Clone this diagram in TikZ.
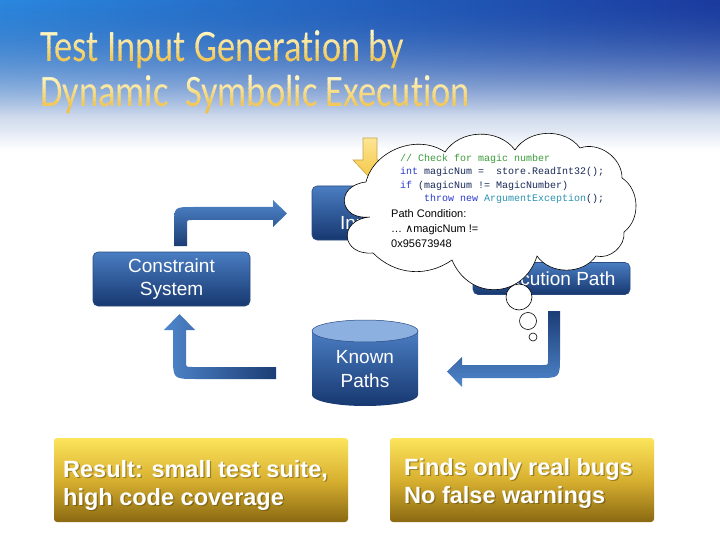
\documentclass[tikz,border=0pt]{standalone}
\usepackage{fontspec}
\setmainfont{Liberation Sans}
\newfontfamily\titlefont[Ligatures=NoCommon]{Carlito}
\newfontfamily\codefont{Liberation Mono}
\newfontfamily\dejavu{DejaVu Sans}
\usetikzlibrary{fadings}
\definecolor{skytop}{HTML}{2455AA}
\definecolor{skymid}{HTML}{6A86C0}
\definecolor{skyleft}{HTML}{2B88DE}
\definecolor{skyright}{HTML}{1B3A9E}
\definecolor{bt}{HTML}{4A7DC2}
\definecolor{bb}{HTML}{173870}
\definecolor{bd}{HTML}{2A4A80}
\definecolor{arrlight}{HTML}{4F86CB}
\definecolor{arrdark}{HTML}{1C3D75}
\definecolor{ytop}{HTML}{FCE45C}
\definecolor{ymid}{HTML}{D8B030}
\definecolor{ybot}{HTML}{8A6912}
\definecolor{yshadow}{HTML}{4A3A08}
\definecolor{cgreen}{HTML}{3A9A3A}
\definecolor{ckw}{HTML}{2A3AD0}
\definecolor{ctype}{HTML}{2B91AF}
\definecolor{ctext}{HTML}{1A2A5A}
\definecolor{cylcap}{HTML}{8CB0E0}
\definecolor{goldarrow}{HTML}{F4C846}
\definecolor{goldlight}{HTML}{FDE593}
\definecolor{goldedge}{HTML}{C9A24A}
\definecolor{ty1}{HTML}{FFF6C4}
\definecolor{ty2}{HTML}{F0C248}
\tikzset{
  bluebox/.style={rounded corners=5pt, top color=bt, bottom color=bb, draw=bd, line width=0.6pt,
    text=white, font=\fontsize{19}{23}\selectfont, align=center, inner sep=0pt},
  ybox/.style={rounded corners=3pt, top color=ytop, bottom color=ybot, middle color=ymid, draw=none, inner sep=0pt},
  ytext/.style={anchor=west, align=left, font=\bfseries\fontsize{23.5}{28}\selectfont, inner sep=0pt},
  titletext/.style={anchor=base west, font=\titlefont\fontsize{45}{45}\selectfont, xscale=0.81, inner sep=0pt},
  bubble/.style={circle, draw=black, line width=0.6pt, fill=white, inner sep=0pt},
  blockarrow/.style={draw=none},
  puff/.style={bend left=55}
}
\begin{document}
\begin{tikzpicture}[x=1pt,y=-1pt]
\useasboundingbox (0,0) rectangle (720,540);
\fill[white] (0,0) rectangle (720,540);
% sky
\shade[top color=skytop, middle color=skymid, bottom color=white] (0,0) rectangle (720,150);
\shade[left color=skyleft, right color=skyright, path fading=south] (0,0) rectangle (720,115);
% title, drawn in horizontal bands for a vertical gradient
\foreach \k in {0,...,7} {
  \pgfmathsetmacro{\mix}{100-\k*100/7}
  \colorlet{tband}{ty1!\mix!ty2}
  \begin{scope}
    \clip (0,{30+\k*4.5}) rectangle (720,{30+(\k+1)*4.5});
    \node[titletext, text=tband] at (40,62) {Test Input Generation by};
  \end{scope}
  \begin{scope}
    \clip (0,{75+\k*4.5}) rectangle (720,{75+(\k+1)*4.5});
    \node[titletext, text=tband] at (40,107) {Dynamic\ \ Symbolic Execution};
  \end{scope}
}
\begin{scope}
  \clip (0,66) rectangle (720,75);
  \node[titletext, text=ty2] (t1) at (40,62) {Test Input Generation by};
\end{scope}
\begin{scope}
  \clip (0,111) rectangle (720,122);
  \node[titletext, text=ty2] (t2) at (40,107) {Dynamic\ \ Symbolic Execution};
\end{scope}

% boxes
\node[bluebox, minimum width=108pt, minimum height=54pt] (ti) at (366,213) {Test\\Inputs};
\node[bluebox, minimum width=157pt, minimum height=54pt] (cs) at (171.5,279) {Constraint\\System};
\node[bluebox, minimum width=157pt, minimum height=32pt] (ep) at (551.5,278.5) {Execution Path};

% block arrows
\shade[blockarrow, top color=arrlight, bottom color=arrdark]
  (174,246) -- (174,226) .. controls (174,207) .. (193,207) -- (273,207) -- (273,200)
  -- (287,213.5) -- (273,227) -- (273,220) -- (192,220) .. controls (187,220) .. (187,225)
  -- (187,246) -- cycle;
\shade[blockarrow, top color=arrdark, bottom color=arrlight]
  (548,311) -- (560,311) -- (560,356) .. controls (560,378) .. (538,378) -- (462,378)
  -- (462,387) -- (447,371.5) -- (462,357) -- (462,365) -- (543,365)
  .. controls (548,365) .. (548,360) -- cycle;
\shade[blockarrow, left color=arrlight, right color=arrdark]
  (179.5,314) -- (195,330) -- (186,330) -- (186,361) .. controls (186,367) .. (192,367)
  -- (276,367) -- (276,379) -- (196,379) .. controls (173,379) .. (173,356)
  -- (173,330) -- (164,330) -- cycle;

% known paths cylinder
\shade[top color=bt, bottom color=bb]
  (312,331) -- (312,395) arc[start angle=180, end angle=0, x radius=53, y radius=11]
  -- (418,331) -- cycle;
\draw[fill=cylcap, draw=bd, line width=0.5pt] (365,331) ellipse[x radius=53, y radius=11];
\node[text=white, font=\fontsize{19}{24}\selectfont, align=center] (kp) at (365,369) {Known\\Paths};

% gold arrow
\shade[top color=goldlight, bottom color=goldarrow, draw=goldedge, line width=0.6pt]
  (363,138) -- (377,138) -- (377,160) -- (387,160) -- (370,178) -- (353,160) -- (363,160) -- cycle;

% cloud
\draw[fill=white, draw=black, line width=0.6pt]
  (366,182) to[puff] (445,152) to[puff] (515,150) to[puff] (580,148) to[puff] (622,178)
  to[puff] (624,232) to[puff] (596,256) to[puff] (537,256) to[bend left=70, looseness=1.35] (452,260)
  to[bend left=40] (373,253) to[bend left=90, looseness=2.3] (370,217)
  to[bend left=90, looseness=2.3] (366,182) -- cycle;
\node[anchor=north west, align=left, inner sep=0pt, text=ctext,
  font=\codefont\fontsize{10}{13.3}\selectfont] (code) at (400,154)
  {{\color{cgreen}// Check for magic number}\\
   {\color{ckw}int} magicNum =\ \ store.ReadInt32();\\
   {\color{ckw}if} (magicNum != MagicNumber)\\
   \hspace*{24pt}{\color{ckw}throw new} {\color{ctype}ArgumentException}();};
\node[anchor=north west, align=left, inner sep=0pt, text=black,
  font=\fontsize{11}{15}\selectfont] (pc) at (391,209)
  {Path Condition:\\ … {\dejavu ∧}magicNum !=\\ 0x95673948};

% thought bubbles
\node[bubble, minimum size=26pt] (b1) at (519,297) {};
\node[bubble, minimum size=17pt] (b2) at (528,321) {};
\node[bubble, minimum size=8pt] (b3) at (533,337) {};

% result boxes
\node[ybox, minimum width=294pt, minimum height=84pt] (r1) at (201,480) {};
\node[ybox, minimum width=264pt, minimum height=84pt] (r2) at (522,480) {};
\node[ytext, text=yshadow, opacity=0.45] at (64.3,486.3) {Result: small test suite,\\high code coverage};
\node[ytext, text=white] (r1t) at (63,485) {Result: small test suite,\\high code coverage};
\node[ytext, text=yshadow, opacity=0.45] at (405.3,484.3) {Finds only real bugs\\No false warnings};
\node[ytext, text=white] (r2t) at (404,483) {Finds only real bugs\\No false warnings};
\end{tikzpicture}
\end{document}
